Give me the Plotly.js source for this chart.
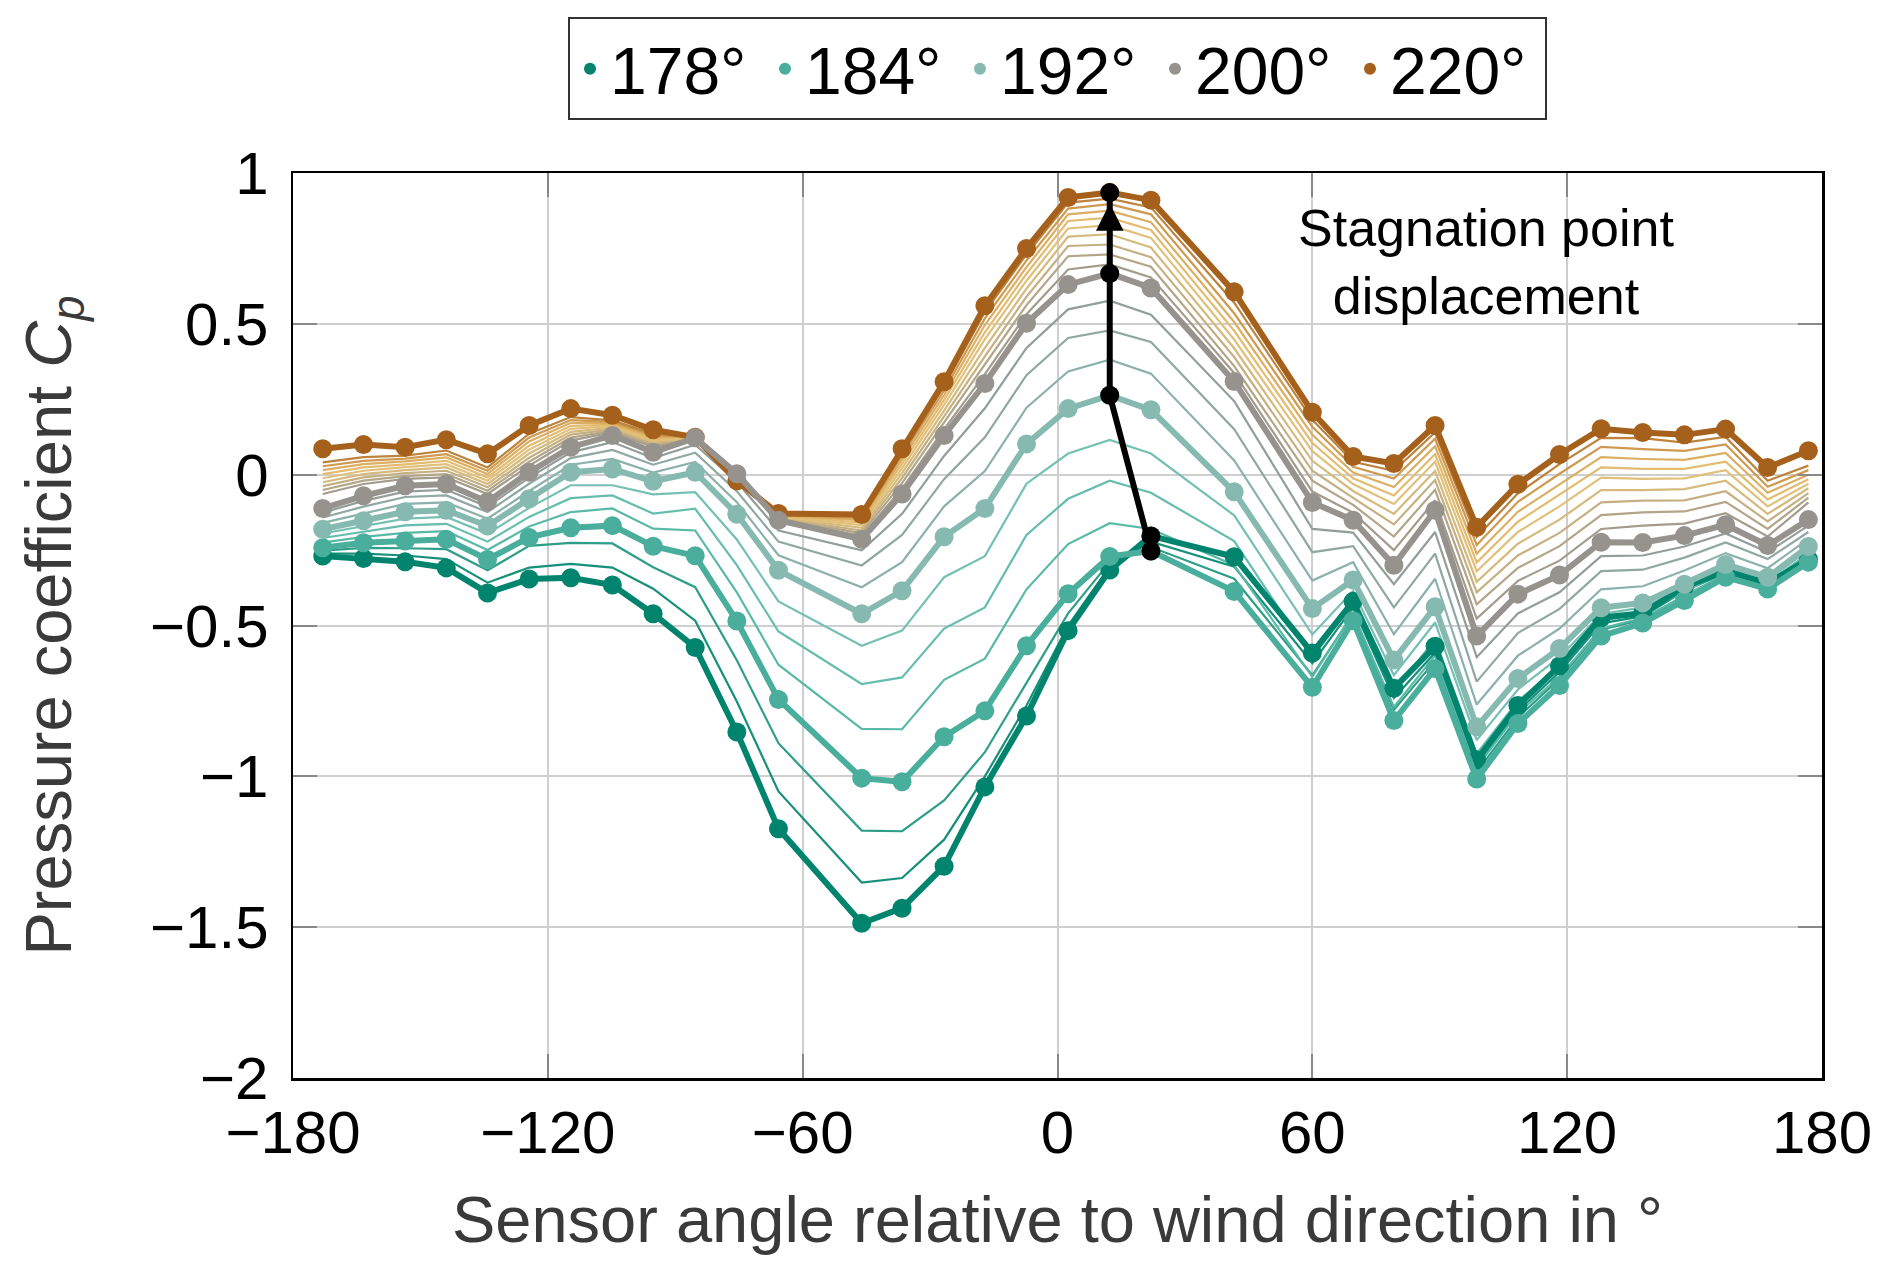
<!DOCTYPE html>
<html>
<head>
<meta charset="utf-8">
<script src="https://cdn.plot.ly/plotly-3.0.1.min.js"></script>
<style>
  html, body { margin: 0; padding: 0; background: #fff; }
  #plot { width: 1892px; height: 1276px; }
</style>
</head>
<body>
<div id="plot"></div>
<script>
// sensor angle relative to wind direction (deg)
var angle = [-173, -163.4, -153.6, -143.9, -134.2, -124.4, -114.6, -104.8, -95.2, -85.3, -75.5, -65.7,
    -46.1, -36.6, -26.7, -17.1, -7.3, 2.5, 12.3, 22.0, 41.6, 60.0, 69.6, 79.2, 88.9, 98.7, 108.4,
    118.2, 128.0, 137.8, 147.6, 157.3, 167.2, 176.8];

// pressure coefficient per wind direction
var cp178 = [-0.270, -0.278, -0.289, -0.309, -0.392, -0.346, -0.342, -0.366, -0.461, -0.573, -0.853, -1.174, -1.487, -1.437, -1.298, -1.035, -0.800, -0.517, -0.316, -0.203, -0.272, -0.591, -0.420, -0.708, -0.569, -0.945, -0.765, -0.634, -0.474, -0.459, -0.372, -0.318, -0.360, -0.280];
var cp180 = [-0.262, -0.262, -0.268, -0.280, -0.358, -0.308, -0.296, -0.308, -0.378, -0.484, -0.752, -1.050, -1.352, -1.337, -1.210, -1.000, -0.765, -0.500, -0.305, -0.222, -0.305, -0.625, -0.440, -0.740, -0.590, -0.965, -0.783, -0.654, -0.493, -0.469, -0.386, -0.325, -0.366, -0.283];
var cp182 = [-0.252, -0.243, -0.244, -0.247, -0.317, -0.236, -0.226, -0.228, -0.307, -0.373, -0.615, -0.890, -1.180, -1.182, -1.080, -0.920, -0.690, -0.460, -0.290, -0.240, -0.345, -0.665, -0.462, -0.780, -0.617, -0.985, -0.805, -0.677, -0.514, -0.481, -0.401, -0.333, -0.372, -0.287];
var cp184 = [-0.242, -0.226, -0.220, -0.214, -0.281, -0.208, -0.176, -0.169, -0.237, -0.269, -0.485, -0.745, -1.006, -1.018, -0.869, -0.783, -0.567, -0.395, -0.271, -0.253, -0.387, -0.705, -0.484, -0.815, -0.643, -1.009, -0.825, -0.699, -0.535, -0.492, -0.417, -0.340, -0.379, -0.290];
var cp186 = [-0.225, -0.206, -0.193, -0.187, -0.250, -0.172, -0.124, -0.112, -0.179, -0.185, -0.390, -0.630, -0.843, -0.844, -0.680, -0.610, -0.380, -0.230, -0.161, -0.180, -0.300, -0.670, -0.460, -0.770, -0.600, -0.970, -0.790, -0.670, -0.510, -0.475, -0.402, -0.329, -0.368, -0.276];
var cp188 = [-0.210, -0.188, -0.168, -0.163, -0.222, -0.140, -0.078, -0.069, -0.129, -0.113, -0.300, -0.520, -0.694, -0.672, -0.510, -0.440, -0.200, -0.080, -0.020, -0.060, -0.220, -0.610, -0.420, -0.720, -0.545, -0.925, -0.750, -0.635, -0.485, -0.457, -0.388, -0.318, -0.358, -0.262];
var cp190 = [-0.195, -0.170, -0.146, -0.140, -0.196, -0.110, -0.035, -0.035, -0.065, -0.058, -0.215, -0.420, -0.567, -0.517, -0.340, -0.270, -0.030, 0.070, 0.115, 0.070, -0.135, -0.530, -0.385, -0.665, -0.490, -0.880, -0.712, -0.605, -0.462, -0.440, -0.375, -0.308, -0.349, -0.250];
var cp192 = [-0.181, -0.153, -0.123, -0.118, -0.170, -0.080, 0.008, 0.019, -0.022, 0.008, -0.131, -0.317, -0.461, -0.385, -0.206, -0.112, 0.102, 0.219, 0.263, 0.215, -0.057, -0.444, -0.349, -0.614, -0.438, -0.836, -0.676, -0.576, -0.441, -0.425, -0.363, -0.298, -0.340, -0.238];
var cp194 = [-0.160, -0.128, -0.097, -0.092, -0.146, -0.054, 0.033, 0.052, 0.007, 0.042, -0.091, -0.267, -0.373, -0.290, -0.105, 0.012, 0.222, 0.342, 0.381, 0.335, 0.047, -0.351, -0.290, -0.529, -0.345, -0.762, -0.600, -0.510, -0.380, -0.370, -0.318, -0.260, -0.310, -0.213];
var cp196 = [-0.142, -0.106, -0.074, -0.069, -0.124, -0.030, 0.055, 0.082, 0.033, 0.073, -0.055, -0.222, -0.301, -0.200, -0.015, 0.124, 0.330, 0.453, 0.478, 0.440, 0.151, -0.257, -0.237, -0.440, -0.262, -0.686, -0.525, -0.445, -0.320, -0.315, -0.275, -0.225, -0.280, -0.190];
var cp198 = [-0.126, -0.087, -0.056, -0.050, -0.106, -0.010, 0.074, 0.108, 0.055, 0.099, -0.024, -0.185, -0.251, -0.130, 0.062, 0.220, 0.420, 0.548, 0.577, 0.530, 0.244, -0.180, -0.192, -0.363, -0.190, -0.605, -0.460, -0.390, -0.270, -0.268, -0.238, -0.195, -0.257, -0.169];
var cp200 = [-0.112, -0.070, -0.037, -0.031, -0.090, 0.008, 0.091, 0.130, 0.074, 0.122, 0.003, -0.151, -0.214, -0.064, 0.130, 0.302, 0.502, 0.630, 0.667, 0.619, 0.309, -0.092, -0.151, -0.300, -0.118, -0.535, -0.396, -0.333, -0.224, -0.225, -0.202, -0.166, -0.235, -0.149];
var cp202 = [-0.064, -0.031, -0.014, -0.009, -0.064, 0.030, 0.113, 0.141, 0.091, 0.122, 0.000, -0.149, -0.203, -0.046, 0.151, 0.333, 0.532, 0.680, 0.697, 0.654, 0.337, -0.056, -0.126, -0.250, -0.085, -0.477, -0.352, -0.285, -0.180, -0.169, -0.162, -0.128, -0.205, -0.092];
var cp204 = [-0.051, -0.020, -0.005, 0.002, -0.053, 0.043, 0.123, 0.146, 0.097, 0.122, -0.003, -0.147, -0.194, -0.028, 0.173, 0.364, 0.562, 0.724, 0.730, 0.689, 0.360, -0.020, -0.100, -0.205, -0.050, -0.430, -0.309, -0.237, -0.134, -0.125, -0.122, -0.090, -0.180, -0.076];
var cp206 = [-0.038, -0.009, 0.005, 0.013, -0.042, 0.056, 0.133, 0.151, 0.102, 0.123, -0.006, -0.145, -0.185, -0.011, 0.193, 0.392, 0.590, 0.758, 0.763, 0.721, 0.390, 0.013, -0.077, -0.165, -0.018, -0.390, -0.268, -0.193, -0.092, -0.086, -0.085, -0.055, -0.155, -0.061];
var cp208 = [-0.025, 0.002, 0.015, 0.024, -0.031, 0.070, 0.142, 0.156, 0.108, 0.123, -0.008, -0.142, -0.176, 0.005, 0.212, 0.420, 0.617, 0.789, 0.797, 0.753, 0.419, 0.046, -0.054, -0.130, 0.012, -0.355, -0.229, -0.149, -0.051, -0.051, -0.048, -0.020, -0.130, -0.045];
var cp210 = [-0.012, 0.013, 0.025, 0.035, -0.020, 0.083, 0.152, 0.161, 0.113, 0.123, -0.010, -0.140, -0.167, 0.021, 0.231, 0.449, 0.643, 0.816, 0.827, 0.785, 0.448, 0.078, -0.031, -0.097, 0.043, -0.320, -0.190, -0.105, -0.010, -0.014, -0.012, 0.015, -0.105, -0.030];
var cp212 = [0.002, 0.024, 0.034, 0.046, -0.009, 0.096, 0.162, 0.165, 0.119, 0.124, -0.012, -0.137, -0.159, 0.036, 0.248, 0.472, 0.666, 0.841, 0.852, 0.811, 0.477, 0.105, -0.012, -0.069, 0.068, -0.291, -0.156, -0.067, 0.024, 0.019, 0.019, 0.043, -0.082, -0.015];
var cp214 = [0.015, 0.035, 0.044, 0.057, 0.002, 0.110, 0.172, 0.170, 0.124, 0.124, -0.014, -0.135, -0.151, 0.050, 0.264, 0.496, 0.688, 0.863, 0.875, 0.837, 0.506, 0.132, 0.007, -0.041, 0.094, -0.262, -0.123, -0.033, 0.058, 0.052, 0.049, 0.072, -0.060, 0.000];
var cp216 = [0.028, 0.046, 0.053, 0.068, 0.013, 0.123, 0.181, 0.175, 0.130, 0.124, -0.016, -0.133, -0.144, 0.063, 0.279, 0.518, 0.710, 0.882, 0.897, 0.863, 0.535, 0.159, 0.026, -0.013, 0.119, -0.233, -0.090, 0.003, 0.092, 0.085, 0.079, 0.100, -0.040, 0.015];
var cp218 = [0.041, 0.058, 0.063, 0.080, 0.024, 0.136, 0.191, 0.180, 0.136, 0.124, -0.018, -0.131, -0.138, 0.075, 0.293, 0.539, 0.730, 0.902, 0.915, 0.886, 0.570, 0.182, 0.043, 0.013, 0.140, -0.207, -0.062, 0.035, 0.122, 0.121, 0.106, 0.125, -0.020, 0.030];
var cp220 = [0.086, 0.100, 0.091, 0.116, 0.069, 0.163, 0.219, 0.197, 0.149, 0.124, -0.020, -0.129, -0.132, 0.086, 0.308, 0.560, 0.750, 0.919, 0.935, 0.910, 0.606, 0.207, 0.060, 0.037, 0.163, -0.174, -0.032, 0.067, 0.152, 0.140, 0.132, 0.151, 0.024, 0.079];

var windDirs = [178, 180, 182, 184, 186, 188, 190, 192, 194, 196, 198, 200, 202, 204, 206, 208, 210, 212, 214, 216, 218, 220];
var highlighted = [178, 184, 192, 200, 220];

var cpByDir = {
    178: cp178, 180: cp180, 182: cp182, 184: cp184, 186: cp186, 188: cp188, 190: cp190, 192: cp192,
    194: cp194, 196: cp196, 198: cp198, 200: cp200, 202: cp202, 204: cp204, 206: cp206, 208: cp208,
    210: cp210, 212: cp212, 214: cp214, 216: cp216, 218: cp218, 220: cp220
};

var colors = {
    178: '#00846d', 180: '#15907a', 182: '#2e9e89', 184: '#4aae9c', 186: '#59b9a7', 188: '#66bdad',
    190: '#75c0b3', 192: '#86bab1', 194: '#8bb1aa', 196: '#8fa8a2', 198: '#939d99', 200: '#96938e',
    202: '#a39c8c', 204: '#b3a588', 206: '#c5b083', 208: '#d5ba7c', 210: '#e0c07a', 212: '#e3bc70',
    214: '#dcae62', 216: '#cf9a50', 218: '#bd823b', 220: '#a5611c'
};

var font = 'Liberation Sans, Arial, sans-serif';
var traces = [];

// thin lines for every wind direction
windDirs.forEach(function (d) {
    if (highlighted.indexOf(d) >= 0) { return; }
    traces.push({
        x: angle, y: cpByDir[d], type: 'scatter', mode: 'lines',
        line: { color: colors[d], width: 2.2 },
        showlegend: false, hoverinfo: 'skip'
    });
});

// thick lines with markers (220 under 200, like the original)
[178, 184, 192, 220, 200].forEach(function (d) {
    traces.push({
        x: angle, y: cpByDir[d], type: 'scatter', mode: 'lines+markers',
        line: { color: colors[d], width: 6 },
        marker: { color: colors[d], size: 19 },
        showlegend: false, hoverinfo: 'skip'
    });
});

// stagnation point = max Cp on the windward side
var stagX = [], stagY = [];
highlighted.forEach(function (d) {
    var ys = cpByDir[d], best = -1;
    for (var i = 0; i < angle.length; i++) {
        if (Math.abs(angle[i]) > 45) continue;
        if (best < 0 || ys[i] > ys[best]) best = i;
    }
    stagX.push(angle[best]);
    stagY.push(ys[best]);
});
traces.push({
    x: stagX, y: stagY, type: 'scatter', mode: 'lines+markers',
    line: { color: '#000', width: 6 },
    marker: { color: '#000', size: 19 },
    showlegend: false, hoverinfo: 'skip'
});

// legend entries (dots only)
highlighted.forEach(function (d) {
    traces.push({
        x: [null], y: [null], type: 'scatter', mode: 'markers',
        name: d + '°',
        marker: { color: colors[d], size: 12 },
        showlegend: true
    });
});

var n = stagX.length;
var layout = {
    width: 1892,
    height: 1276,
    margin: { l: 293, r: 70, t: 173, b: 198 },
    paper_bgcolor: '#fff',
    plot_bgcolor: '#fff',
    font: { family: font, color: '#000' },
    showlegend: true,
    legend: {
        orientation: 'h',
        x: 0.5, xanchor: 'center',
        y: 1.172, yanchor: 'top',
        bordercolor: '#333', borderwidth: 2,
        font: { size: 66, family: font, color: '#000' },
        itemwidth: 30,
        entrywidth: 150
    },
    xaxis: {
        range: [-180, 180],
        tickvals: [-180, -120, -60, 0, 60, 120, 180],
        showgrid: true, gridcolor: '#cfcfcf', gridwidth: 2,
        zeroline: false,
        showline: true, linecolor: '#000', linewidth: 2.5, mirror: 'ticks',
        ticks: 'inside', ticklen: 24, tickwidth: 2, tickcolor: '#888',
        tickfont: { size: 60, family: font, color: '#000' },
        ticklabelstandoff: 0,
        title: { text: 'Sensor angle relative to wind direction in °', font: { size: 65, family: font, color: '#3a3a3a' }, standoff: 32 },
        automargin: false
    },
    yaxis: {
        range: [-2, 1],
        tickvals: [-2, -1.5, -1, -0.5, 0, 0.5, 1],
        showgrid: true, gridcolor: '#cfcfcf', gridwidth: 2,
        zeroline: false,
        showline: true, linecolor: '#000', linewidth: 2.5, mirror: 'ticks',
        ticks: 'inside', ticklen: 24, tickwidth: 2, tickcolor: '#888',
        tickfont: { size: 60, family: font, color: '#000' },
        ticklabelstandoff: 10,
        title: { text: 'Pressure coefficient <i>C<sub>p</sub></i>', font: { size: 65, family: font, color: '#3a3a3a' }, standoff: 58 },
        automargin: false
    },
    annotations: [
        {
            x: stagX[n - 1], y: stagY[n - 1] - 0.035, xref: 'x', yref: 'y',
            ax: stagX[n - 1], ay: stagY[n - 2], axref: 'x', ayref: 'y',
            showarrow: true, arrowhead: 2, arrowsize: 1.1, arrowwidth: 5, arrowcolor: '#000',
            standoff: 0, text: ''
        },
        {
            x: 101, y: 0.705, xref: 'x', yref: 'y',
            showarrow: false, align: 'center',
            text: 'Stagnation point<br>displacement',
            font: { size: 52, family: font, color: '#000' }
        }
    ]
};

Plotly.newPlot('plot', traces, layout, { staticPlot: true, responsive: false });
</script>
</body>
</html>
